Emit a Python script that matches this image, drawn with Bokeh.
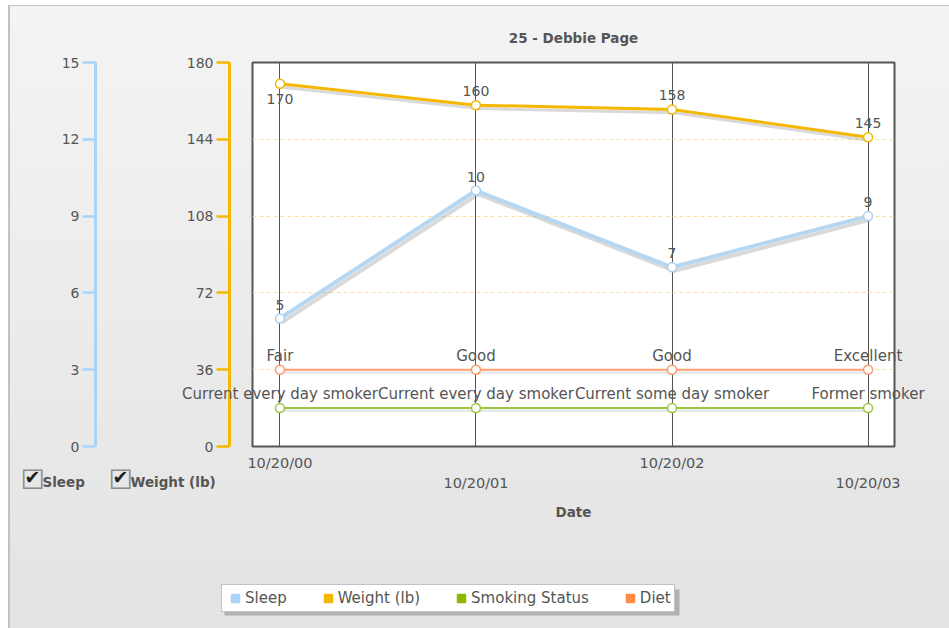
from bokeh.plotting import figure
from bokeh.models import (Range1d, LinearAxis, FixedTicker, ColumnDataSource, LabelSet,
                          Label, Legend, LegendItem, Grid, BoxAnnotation)
from bokeh.core.properties import value
from bokeh.transform import dodge
from bokeh.embed import file_html
from bokeh.resources import INLINE

# ---------------- data ----------------
dates = ["10/20/00", "10/20/01", "10/20/02", "10/20/03"]
sleep = [5, 10, 7, 9]
weight = [170, 160, 158, 145]
diet = ["Fair", "Good", "Good", "Excellent"]
smoking = ["Current every day smoker", "Current every day smoker",
           "Current some day smoker", "Former smoker"]
weight_ticks = [0, 36, 72, 108, 144, 180]
sleep_ticks = [0, 3, 6, 9, 12, 15]
diet_level = 36      # row (weight scale) on which the Diet status is drawn
smoking_level = 18   # row (weight scale) on which the Smoking status is drawn
title_text = "25 - Debbie Page"
legend_names = ["Sleep", "Weight (lb)", "Smoking Status", "Diet"]
checkbox_names = ["Sleep", "Weight (lb)"]

# ---------------- layout / style ----------------
FONT = "DejaVu Sans"
TXT = "#555555"
C_SLEEP, C_WEIGHT, C_SMOKE, C_DIET = "#aad4f7", "#f5b800", "#8db600", "#ff8c42"
W, H = 949, 628
FL, FR, FT, FB = 252, 894, 62, 446          # plot-box edges in page pixels
XR = (-0.14, 3.135)
WR = (0, 180)
SR = (0, 15)

x = list(range(len(dates)))
src = ColumnDataSource(dict(
    x=x, sleep=sleep, weight=weight,
    diet_y=[diet_level] * len(x), smoke_y=[smoking_level] * len(x),
    diet=diet, smoking=smoking,
    sleep_lbl=[str(v) for v in sleep], weight_lbl=[str(v) for v in weight],
    weight_off=[-20 if v >= 165 else 9 for v in weight],
))

# ================= main figure: frame, axes, grid, lines =================
p = figure(width=W, height=H, output_backend="svg", toolbar_location=None,
           x_range=Range1d(*XR), y_range=Range1d(*WR),
           x_axis_type=None, y_axis_type=None,
           min_border_left=FL, min_border_right=W - FR,
           min_border_top=FT, min_border_bottom=H - FB)
p.extra_y_ranges = {"sleep": Range1d(*SR)}
p.border_fill_color = None
p.background_fill_color = "white"
p.outline_line_color = "#555555"
p.outline_line_width = 2
p.styles = {"background": "linear-gradient(to bottom, #f4f4f4, #e3e3e3)",
            "box-shadow": "inset 8px 5px 0 0 #ffffff, inset 10px 6px 0 0 #c2c2c2"}

p.add_layout(Grid(dimension=0, ticker=FixedTicker(ticks=x),
                  grid_line_color="#555555", grid_line_width=1))
p.add_layout(Grid(dimension=1, ticker=FixedTicker(ticks=weight_ticks[1:-1]),
                  grid_line_color="#f8e2a0", grid_line_dash="4 3", grid_line_width=1))

CLEAR = "rgba(0,0,0,0)"

def spacer(w):
    return LinearAxis(ticker=FixedTicker(ticks=[90]), major_label_overrides={90: ""},
                      major_tick_out=w, major_tick_in=0, minor_tick_out=0, minor_tick_in=0,
                      axis_line_color=None, major_tick_line_color=CLEAR,
                      major_label_standoff=0, major_label_text_font_size="1px")

def value_axis(ticks, color, **kw):
    return LinearAxis(ticker=FixedTicker(ticks=ticks), axis_line_color=color,
                      axis_line_width=3, major_tick_line_color=color, major_tick_line_width=2.5,
                      major_tick_in=0, major_tick_out=13, minor_tick_out=0, minor_tick_in=0,
                      major_label_standoff=3, major_label_text_font=FONT,
                      major_label_text_font_size="14px", major_label_text_color=TXT, **kw)

p.add_layout(spacer(23), "left")
p.add_layout(value_axis(weight_ticks, C_WEIGHT), "left")
p.add_layout(spacer(88), "left")
p.add_layout(value_axis(sleep_ticks, C_SLEEP, y_range_name="sleep"), "left")

def date_axis(ticks, standoff, **kw):
    return LinearAxis(ticker=FixedTicker(ticks=ticks),
                      major_label_overrides={t: dates[t] for t in ticks},
                      axis_line_color=None, major_tick_line_color=None,
                      minor_tick_line_color=None, major_tick_in=0, major_tick_out=0,
                      minor_tick_in=0, minor_tick_out=0, major_label_standoff=standoff,
                      major_label_text_font=FONT, major_label_text_font_size="14.5px",
                      major_label_text_color=TXT, **kw)

p.add_layout(date_axis(x[0::2], 8), "below")
p.add_layout(date_axis(x[1::2], 1, axis_label="Date", axis_label_standoff=10,
                       axis_label_text_font=FONT, axis_label_text_font_size="13.5px",
                       axis_label_text_font_style="bold", axis_label_text_color=TXT), "below")

# soft shadows
p.line(dodge("x", 0.012), dodge("sleep", -0.14), source=src, y_range_name="sleep",
       line_color="#808080", line_alpha=0.3, line_width=4)
p.line(dodge("x", 0.012), dodge("weight", -1.6), source=src,
       line_color="#808080", line_alpha=0.3, line_width=3)
p.line(dodge("x", 0.012), dodge("diet_y", -1.3), source=src,
       line_color="#808080", line_alpha=0.22, line_width=2)
p.line(dodge("x", 0.012), dodge("smoke_y", -1.3), source=src,
       line_color="#808080", line_alpha=0.22, line_width=2)

p.line("x", "sleep", source=src, y_range_name="sleep", line_color="#b5d7f2", line_width=4)
p.line("x", "weight", source=src, line_color=C_WEIGHT, line_width=3)
p.line("x", "diet_y", source=src, line_color="#ffa070", line_width=2)
p.line("x", "smoke_y", source=src, line_color="#9cc43c", line_width=2)

mk = dict(size=9, fill_color="white", line_width=1.5)
p.scatter("x", "sleep", source=src, y_range_name="sleep", line_color="#a9cfee", **mk)
p.scatter("x", "weight", source=src, line_color=C_WEIGHT, **mk)
p.scatter("x", "diet_y", source=src, line_color="#ff9966", **mk)
p.scatter("x", "smoke_y", source=src, line_color="#9cc43c", **mk)

# ================= overlay figure: all texts, legend (not clipped) =================
def widen(r, lo_px, hi_px, span_px):
    k = (r[1] - r[0]) / span_px
    return Range1d(r[0] - lo_px * k, r[1] + hi_px * k)

o = figure(width=W, height=H, output_backend="svg", toolbar_location=None,
           x_range=widen(XR, FL, W - FR, FR - FL), y_range=widen(WR, H - FB, FT, FB - FT),
           x_axis_type=None, y_axis_type=None,
           min_border_left=0, min_border_right=0, min_border_top=0, min_border_bottom=0)
o.extra_y_ranges = {"sleep": widen(SR, H - FB, FT, FB - FT)}
o.border_fill_color = None
o.background_fill_color = None
o.outline_line_color = None
o.styles = {"position": "absolute", "left": "0px", "top": "0px"}

lbl = dict(source=src, text_align="center", text_baseline="alphabetic",
           text_font=value(FONT), text_color=TXT)
o.add_layout(LabelSet(x="x", y="sleep", text="sleep_lbl", y_range_name="sleep",
                      y_offset=9, text_font_size="14px", **lbl))
o.add_layout(LabelSet(x="x", y="weight", text="weight_lbl", y_offset="weight_off",
                      text_font_size="14px", **lbl))
o.add_layout(LabelSet(x="x", y="diet_y", text="diet", y_offset=9,
                      text_font_size="15px", **lbl))
o.add_layout(LabelSet(x="x", y="smoke_y", text="smoking", y_offset=9,
                      text_font_size="15px", **lbl))

# title
o.add_layout(Label(x=(FL + FR) / 2, y=H - 37, x_units="screen", y_units="screen",
                   text=title_text, text_align="center", text_baseline="middle",
                   text_font=FONT, text_font_size="13.5px", text_font_style="bold",
                   text_color=TXT))

# checkboxes
for bx, name in zip([20, 108], checkbox_names):
    o.add_layout(Label(x=bx, y=H - 479, x_units="screen", y_units="screen", text="\u2610",
                       text_align="left", text_baseline="middle", text_font=FONT,
                       text_font_size="27px", text_color="#8a8a8a"))
    o.add_layout(Label(x=bx + 4, y=H - 476, x_units="screen", y_units="screen", text="\u2714",
                       text_align="left", text_baseline="middle", text_font=FONT,
                       text_font_size="19px", text_color="#1e1e1e"))
    o.add_layout(Label(x=bx + 22, y=H - 481, x_units="screen", y_units="screen", text=name,
                       text_align="left", text_baseline="middle", text_font=FONT,
                       text_font_size="13.5px", text_font_style="bold", text_color=TXT))

# legend drop shadow, then legend
o.add_layout(BoxAnnotation(left=224, right=679, bottom=H - 615, top=H - 589,
                           left_units="screen", right_units="screen",
                           bottom_units="screen", top_units="screen",
                           fill_color="#555555", fill_alpha=0.35, line_color=None))
colors = [C_SLEEP, C_WEIGHT, C_SMOKE, C_DIET]
items = []
for n, c in zip(legend_names, colors):
    r = o.scatter("x", "weight", source=src, marker="square", size=0,
                  fill_color=c, line_color=c, line_width=1.5)
    items.append(LegendItem(label=n, renderers=[r]))
o.add_layout(Legend(items=items, location=(221, H - 612), orientation="horizontal",
                    label_text_font=FONT, label_text_font_size="15px", label_text_color=TXT,
                    glyph_width=20, glyph_height=20, label_standoff=0, spacing=31,
                    padding=3, margin=0, label_height=13,
                    border_line_color="#888888", border_line_width=1,
                    background_fill_color="white", background_fill_alpha=1))

open("out.html", "w").write(file_html([p, o], INLINE))
